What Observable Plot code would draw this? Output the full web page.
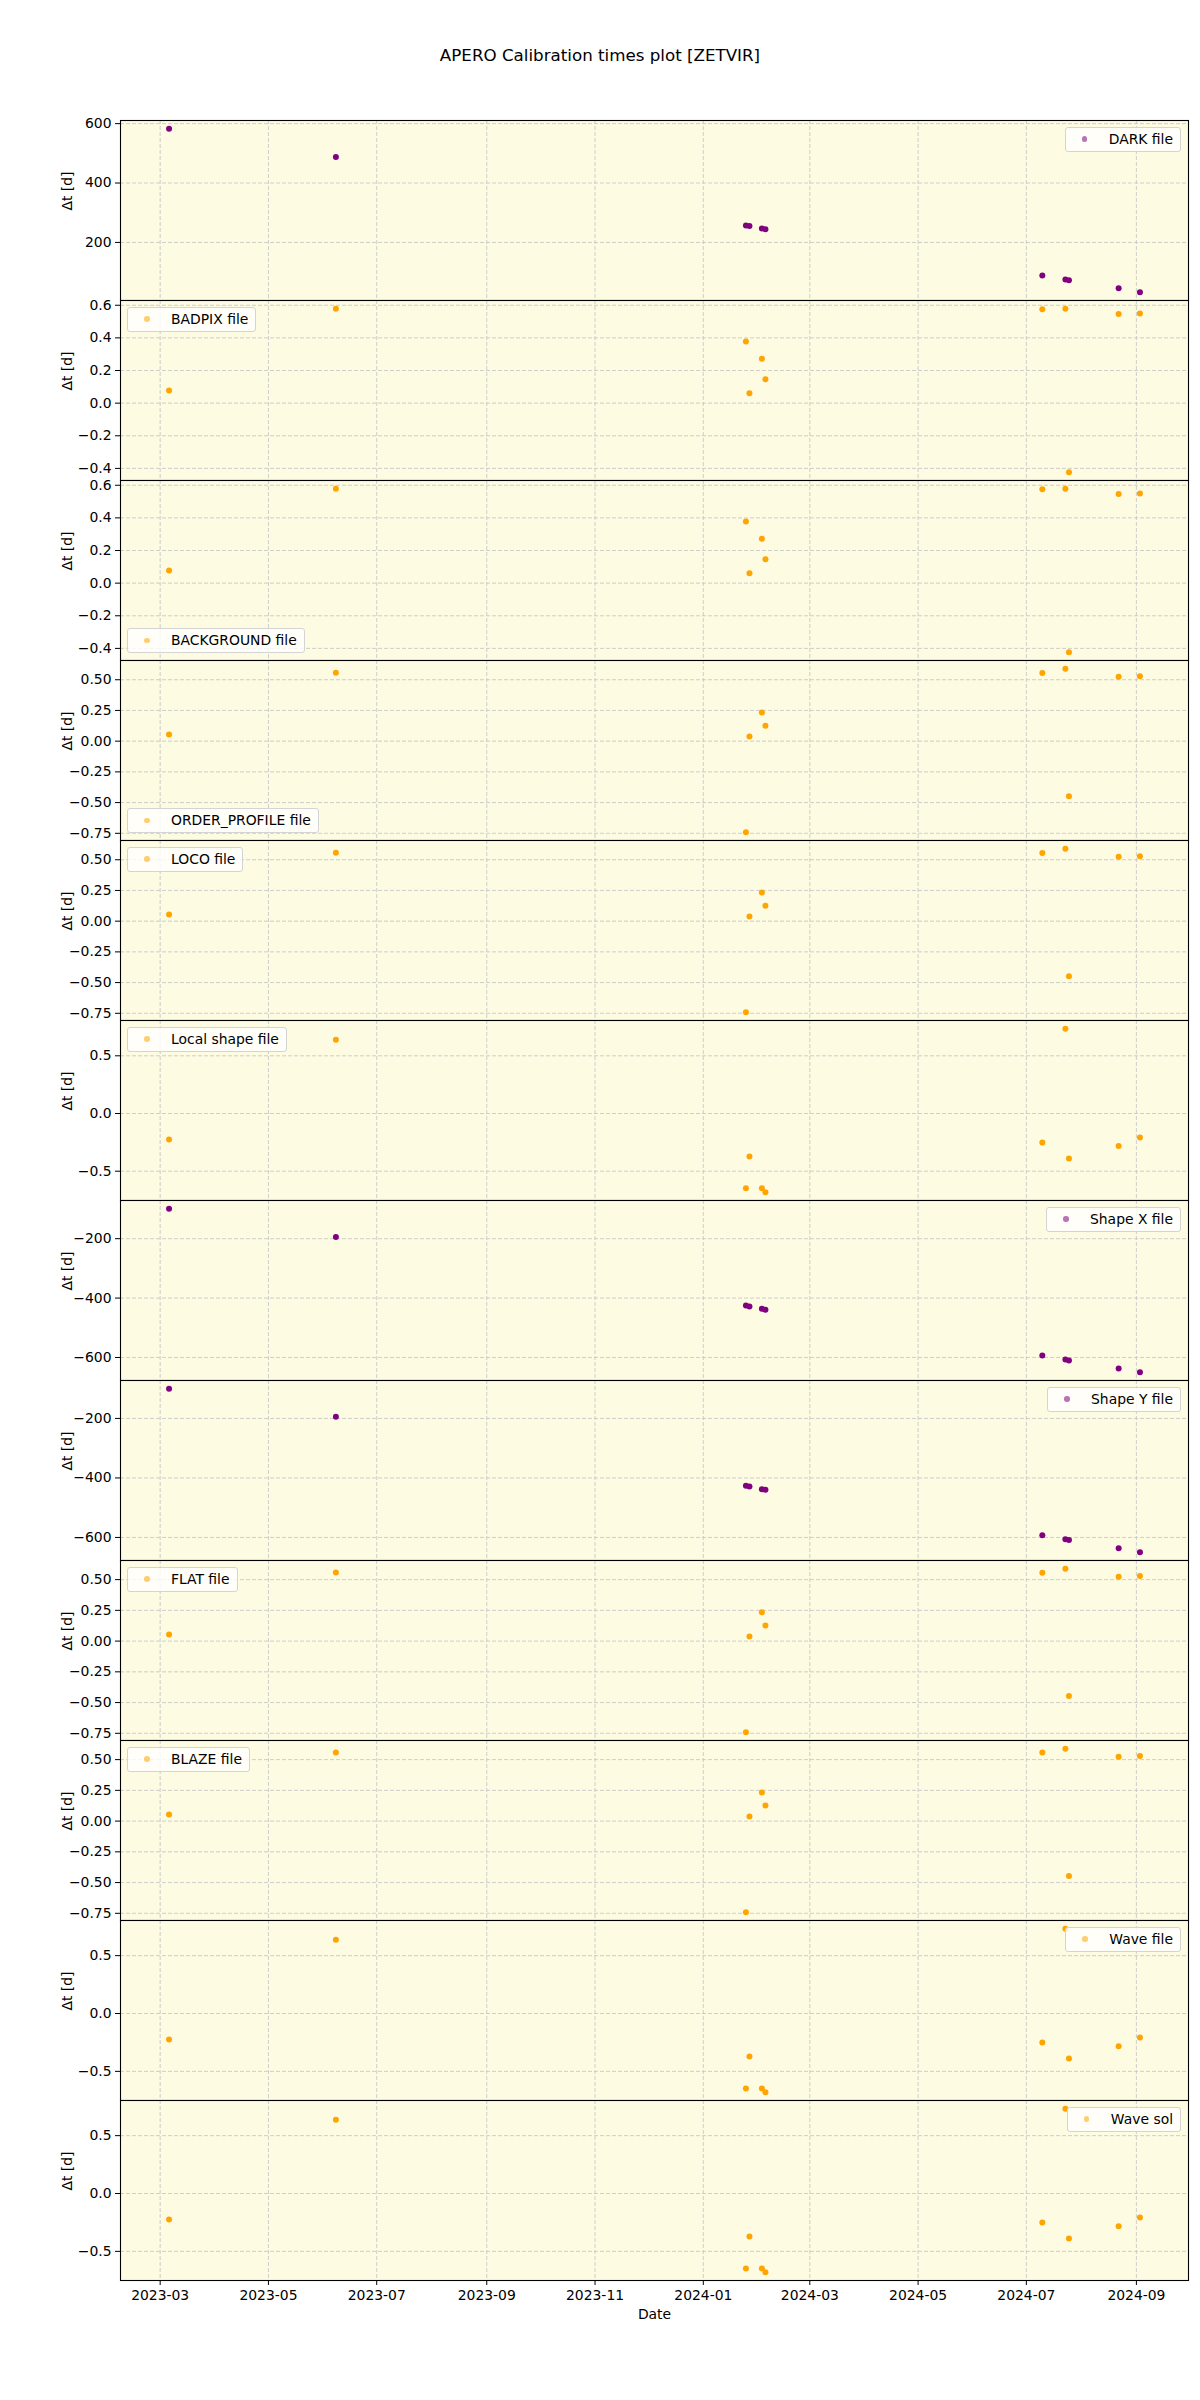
<!DOCTYPE html>
<html>
<head>
<meta charset="utf-8">
<script src="https://cdn.jsdelivr.net/npm/d3@7"></script>
<script src="https://cdn.jsdelivr.net/npm/@observablehq/plot@0.6"></script>
<style>
  body { margin: 0; background: #ffffff; font-family: "DejaVu Sans", sans-serif; }
  #chart { position: relative; width: 1200px; }
  .title { height: 120px; position: relative; }
  .title span { position: absolute; left: 0; width: 1200px; top: 44px; text-align: center; font-size: 16.7px; line-height: 22px; color: #000; }
  .panel { position: relative; width: 1200px; }
  .panel svg { position: absolute; left: 0; top: 0; overflow: visible; }
  .legend { position: absolute; height: 22.6px; line-height: 22.6px; border: 1px solid #d4d4d4; border-radius: 3px;
            background: rgba(255,255,255,0.8); font-size: 13.9px; color: #000; padding-right: 7px; white-space: nowrap; z-index: 2; }
  .legend i { display: inline-block; width: 5.5px; height: 5.5px; border-radius: 50%; margin-left: 16px; margin-right: 21.5px; vertical-align: middle; position: relative; top: -1px; }
</style>
</head>
<body>
<div id="chart"></div>
<script>
// ---------------- data ----------------
const dates = ["2023-03-06","2023-06-08","2024-01-25","2024-01-27","2024-02-03","2024-02-05",
               "2024-07-10","2024-07-23","2024-07-25","2024-08-22","2024-09-03"];

const darkFile        = [583, 488, 257, 255, 247, 244, 89, 75, 73, 46, 32];
const badpixFile      = [0.078, 0.579, 0.378, 0.060, 0.272, 0.146, 0.575, 0.579, -0.424, 0.546, 0.550];
const backgroundFile  = [0.078, 0.579, 0.378, 0.060, 0.272, 0.146, 0.575, 0.579, -0.424, 0.546, 0.550];
const orderProfile    = [0.054, 0.557, -0.742, 0.038, 0.234, 0.125, 0.554, 0.590, -0.448, 0.525, 0.528];
const locoFile        = [0.054, 0.557, -0.742, 0.038, 0.234, 0.125, 0.554, 0.590, -0.448, 0.525, 0.528];
const localShapeFile  = [-0.225, 0.640, -0.648, -0.372, -0.648, -0.683, -0.251, 0.735, -0.389, -0.282, -0.207];
const shapeXFile      = [-99, -194, -425, -428, -436, -439, -593, -607, -610, -637, -650];
const shapeYFile      = [-100, -194, -426, -429, -438, -440, -593, -606, -609, -636, -650];
const flatFile        = [0.054, 0.557, -0.742, 0.038, 0.234, 0.126, 0.555, 0.589, -0.446, 0.524, 0.530];
const blazeFile       = [0.054, 0.557, -0.742, 0.038, 0.233, 0.127, 0.557, 0.589, -0.446, 0.524, 0.530];
const waveFile        = [-0.224, 0.638, -0.647, -0.371, -0.647, -0.681, -0.250, 0.733, -0.388, -0.282, -0.207];
const waveSol         = [-0.224, 0.638, -0.647, -0.371, -0.647, -0.681, -0.250, 0.733, -0.388, -0.282, -0.207];

const panelNames = ["DARK file","BADPIX file","BACKGROUND file","ORDER_PROFILE file","LOCO file","Local shape file",
                    "Shape X file","Shape Y file","FLAT file","BLAZE file","Wave file","Wave sol"];
const panelValues = [darkFile, badpixFile, backgroundFile, orderProfile, locoFile, localShapeFile,
                     shapeXFile, shapeYFile, flatFile, blazeFile, waveFile, waveSol];

const ticksDark   = [200, 400, 600];
const ticksTenth  = [-0.4, -0.2, 0.0, 0.2, 0.4, 0.6];
const ticksQuart  = [-0.75, -0.5, -0.25, 0.0, 0.25, 0.5];
const ticksHalf   = [-0.5, 0.0, 0.5];
const ticksShape  = [-600, -400, -200];
const panelTicks = [ticksDark, ticksTenth, ticksTenth, ticksQuart, ticksQuart, ticksHalf,
                    ticksShape, ticksShape, ticksQuart, ticksQuart, ticksHalf, ticksHalf];
const panelTickDecimals = [0, 1, 1, 2, 2, 1, 0, 0, 2, 2, 1, 1];

const xTickLabels = ["2023-03","2023-05","2023-07","2023-09","2023-11","2024-01","2024-03","2024-05","2024-07","2024-09"];

const titleText = "APERO Calibration times plot [ZETVIR]";
const yLabel = "Δt [d]";
const xLabel = "Date";

// ---------------- style ----------------
const PURPLE = "#800080", ORANGE = "#ffa500";
const panelColor = [PURPLE, ORANGE, ORANGE, ORANGE, ORANGE, ORANGE, PURPLE, PURPLE, ORANGE, ORANGE, ORANGE, ORANGE];
const legendLoc = ["ur","ul","ll","ll","ul","ul","ur","ur","ul","ul","ur","ur"];
const BG = "#fdfbe2";
const GRID = "#c8c8c8";
const PANEL_H = 180, ML = 120, MR = 12, W = 1200, MB_LAST = 120;

// ---------------- build ----------------
const parseDay = d3.utcParse("%Y-%m-%d");
const parseMonth = d3.utcParse("%Y-%m");
const dateObjs = dates.map(parseDay);
const xTicks = xTickLabels.map(parseMonth);

function pad(ext, f = 0.05) { const d = (ext[1] - ext[0]) * f; return [ext[0] - d, ext[1] + d]; }
const xExt = pad(d3.extent(dateObjs, d => +d));
const xDomain = [new Date(xExt[0]), new Date(xExt[1])];

const chart = document.getElementById("chart");
const t = document.createElement("div");
t.className = "title";
t.innerHTML = `<span>${titleText}</span>`;
chart.appendChild(t);

panelNames.forEach((name, i) => {
  const last = i === panelNames.length - 1;
  const vals = panelValues[i];
  const rows = vals.map((v, k) => ({date: dateObjs[k], v}));
  const yDomain = pad(d3.extent(vals));
  const fmt = d3.format(`.${panelTickDecimals[i]}f`);
  const h = PANEL_H + (last ? MB_LAST : 0);

  const marks = [
    Plot.frame({fill: BG, stroke: "none"}),
    Plot.gridX(xTicks, {stroke: GRID, strokeOpacity: 1, strokeWidth: 0.9, strokeDasharray: "4,2"}),
    Plot.gridY(panelTicks[i], {stroke: GRID, strokeOpacity: 1, strokeWidth: 0.9, strokeDasharray: "4,2"}),
    Plot.dot(rows, {x: "date", y: "v", r: 3, fill: panelColor[i], stroke: "none"}),
    Plot.frame({stroke: "#000", strokeWidth: 1.1, fill: "none"}),
    Plot.axisY(panelTicks[i], {anchor: "left", tickSize: 5, tickPadding: 4, tickFormat: fmt, label: null, stroke: "#000"}),
    Plot.text([yLabel], {frameAnchor: "left", dx: -53, rotate: -90, fontSize: 13.9, fill: "#000"})
  ];
  if (last) {
    marks.push(Plot.axisX(xTicks, {anchor: "bottom", tickSize: 5, tickPadding: 5, tickFormat: d3.utcFormat("%Y-%m"), label: null, stroke: "#000"}));
    marks.push(Plot.text([xLabel], {frameAnchor: "bottom", dy: 38, fontSize: 13.9, fill: "#000"}));
  }

  const svg = Plot.plot({
    width: W, height: h,
    marginLeft: ML, marginRight: MR, marginTop: 0, marginBottom: last ? MB_LAST : 0,
    style: {overflow: "visible", background: "transparent", fontFamily: "DejaVu Sans", fontSize: "13.9px", color: "#000"},
    x: last ? {type: "utc", domain: xDomain} : {type: "utc", domain: xDomain, axis: null},
    y: {domain: yDomain},
    marks
  });

  const div = document.createElement("div");
  div.className = "panel";
  div.style.height = h + "px";
  div.appendChild(svg);

  const lg = document.createElement("div");
  lg.className = "legend";
  lg.innerHTML = `<i style="background:${panelColor[i]};opacity:0.55"></i>${name}`;
  const loc = legendLoc[i];
  if (loc[1] === "r") lg.style.right = (MR + 7) + "px"; else lg.style.left = (ML + 7) + "px";
  if (loc[0] === "u") lg.style.top = "7px"; else lg.style.bottom = ((last ? MB_LAST : 0) + 7) + "px";
  div.appendChild(lg);

  chart.appendChild(div);
});
</script>
</body>
</html>
